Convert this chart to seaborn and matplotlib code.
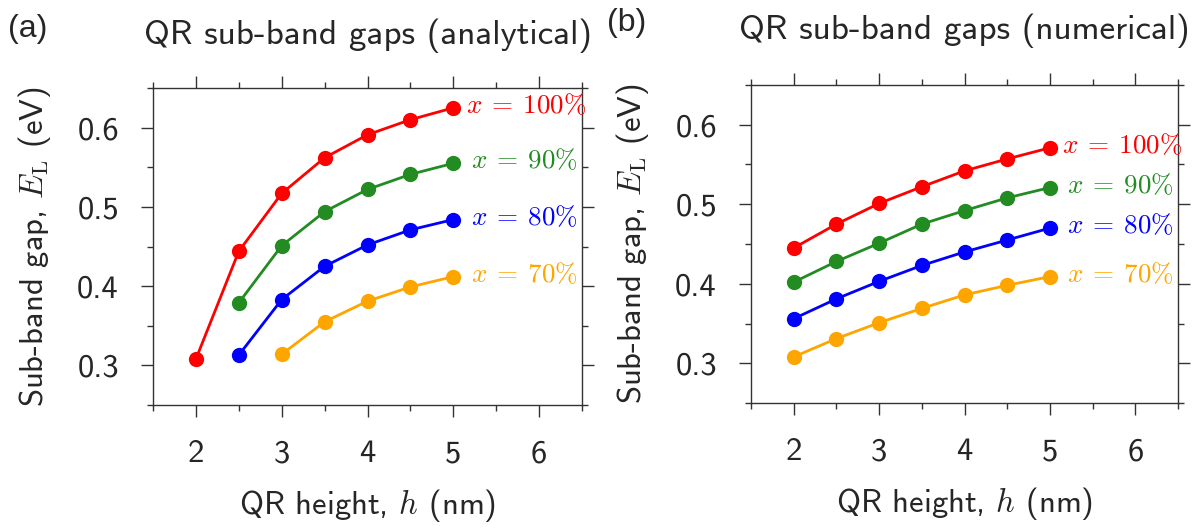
import numpy as np
import pandas as pd
import matplotlib
matplotlib.use("Agg")
import matplotlib.pyplot as plt
from matplotlib.ticker import MultipleLocator
import seaborn as sns

# ---------------- data ----------------
compositions = ["100%", "90%", "80%", "70%"]
colors = ["red", "forestgreen", "blue", "orange"]

# panel (a): analytical
h_a_100 = [2.0, 2.5, 3.0, 3.5, 4.0, 4.5, 5.0]
E_a_100 = [0.308, 0.444, 0.517, 0.562, 0.591, 0.610, 0.625]
h_a_90 = [2.5, 3.0, 3.5, 4.0, 4.5, 5.0]
E_a_90 = [0.379, 0.451, 0.494, 0.522, 0.541, 0.555]
h_a_80 = [2.5, 3.0, 3.5, 4.0, 4.5, 5.0]
E_a_80 = [0.313, 0.383, 0.425, 0.452, 0.471, 0.484]
h_a_70 = [3.0, 3.5, 4.0, 4.5, 5.0]
E_a_70 = [0.314, 0.355, 0.381, 0.399, 0.412]

# panel (b): numerical
h_b = [2.0, 2.5, 3.0, 3.5, 4.0, 4.5, 5.0]
E_b_100 = [0.445, 0.475, 0.501, 0.522, 0.542, 0.557, 0.571]
E_b_90 = [0.402, 0.428, 0.451, 0.475, 0.492, 0.508, 0.521]
E_b_80 = [0.356, 0.381, 0.403, 0.423, 0.440, 0.455, 0.470]
E_b_70 = [0.308, 0.331, 0.351, 0.369, 0.386, 0.398, 0.409]

x_ticks = [2, 3, 4, 5, 6]
y_ticks = [0.3, 0.4, 0.5, 0.6]
titles = ["QR sub-band gaps (analytical)", "QR sub-band gaps (numerical)"]
panel_tags = ["(a)", "(b)"]
xlabel = "QR height, $h$ (nm)"
ylabel = "Sub-band gap, $E_{\\mathrm{L}}$ (eV)"


def long_df(hs, Es):
    rows = []
    for comp, h, E in zip(compositions, hs, Es):
        for hi, Ei in zip(h, E):
            rows.append({"h": hi, "E": Ei, "x": comp})
    return pd.DataFrame(rows)


df_a = long_df([h_a_100, h_a_90, h_a_80, h_a_70], [E_a_100, E_a_90, E_a_80, E_a_70])
df_b = long_df([h_b] * 4, [E_b_100, E_b_90, E_b_80, E_b_70])

# ---------------- style ----------------
sns.set_style("ticks")
plt.rcParams["font.family"] = ["cmss10", "DejaVu Sans"]
plt.rcParams["mathtext.fontset"] = "cm"
plt.rcParams["axes.unicode_minus"] = False
plt.rcParams["axes.formatter.use_mathtext"] = False

fig = plt.figure(figsize=(11.97, 5.30), dpi=100)
rects = [
    [153 / 1197, 1 - 405 / 530, 429 / 1197, 317 / 530],
    [751 / 1197, 1 - 403 / 530, 427 / 1197, 318 / 530],
]
title_y = [1.139, 1.145]
label_offsets = {"100%": 9, "90%": 12.5, "80%": 12.5, "70%": 12.5}
tick_fs = 23.5

for k, (df, rect) in enumerate(zip([df_a, df_b], rects)):
    ax = fig.add_axes(rect)
    sns.lineplot(
        data=df, x="h", y="E", hue="x", hue_order=compositions,
        palette=colors, marker="o", markersize=11, markeredgewidth=0,
        linewidth=2, legend=False, estimator=None, ax=ax,
    )
    ax.set_xlim(1.5, 6.5)
    ax.set_ylim(0.25, 0.65)
    ax.set_xticks(x_ticks)
    ax.set_yticks(y_ticks)
    ax.set_xticklabels([str(t) for t in x_ticks])
    ax.set_yticklabels([f"{t:.1f}" for t in y_ticks])
    ax.xaxis.set_minor_locator(MultipleLocator(0.5))
    ax.yaxis.set_minor_locator(MultipleLocator(0.05))
    ax.tick_params(which="both", direction="out", top=True, right=True,
                   labeltop=False, labelright=False, color="#333333", width=1)
    ax.tick_params(which="major", length=8.5, labelsize=tick_fs, pad=16)
    ax.tick_params(which="minor", length=4.5)
    for sp in ax.spines.values():
        sp.set_visible(True)
        sp.set_color("#333333")
        sp.set_linewidth(1)
    ax.set_xlabel(xlabel, fontsize=tick_fs, labelpad=14)
    ax.set_ylabel(ylabel, fontsize=tick_fs)
    ax.yaxis.set_label_coords(-100 / 429, 0.5)

    # series labels at the end of each curve
    for comp, col in zip(compositions, colors):
        sub = df[df["x"] == comp]
        xe, ye = sub["h"].iloc[-1], sub["E"].iloc[-1]
        ax.annotate(f"$x\\:=\\:{comp[:-1]}\\%$", xy=(xe, ye),
                    xytext=(label_offsets[comp], 2), textcoords="offset points",
                    color=col, fontsize=19.5, ha="left", va="center",
                    annotation_clip=False)

    ax.text(0.5, title_y[k], titles[k], transform=ax.transAxes, ha="center",
            va="baseline", fontsize=25.3)

fig.text(8 / 1197, 1 - 29 / 530, panel_tags[0], fontsize=23,
         family="Liberation Sans", va="center", ha="left")
fig.text(607 / 1197, 1 - 23 / 530, panel_tags[1], fontsize=23,
         family="Liberation Sans", va="center", ha="left")

fig.savefig("out.png", dpi=100, facecolor="white")
